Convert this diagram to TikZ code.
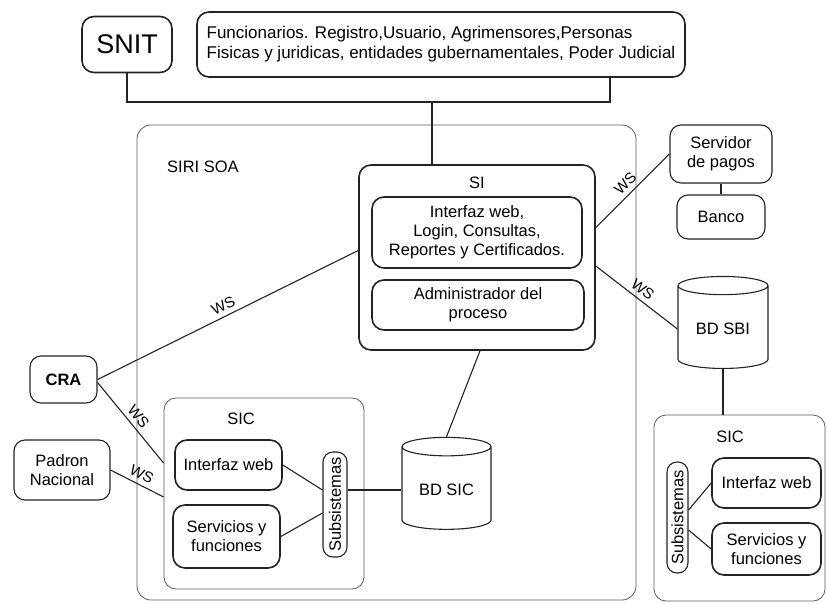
\documentclass[tikz,border=0pt]{standalone}
\usepackage{fontspec}
\setmainfont{Liberation Sans}
\usepackage{graphicx}
\usepackage{tikz}
\usetikzlibrary{shapes.geometric, positioning, calc}
\definecolor{inkgray}{RGB}{35, 35, 35}
\definecolor{framegray}{RGB}{90, 90, 90}
\tikzstyle{box} = [draw=inkgray, rounded corners=12pt, line width=1.6pt, align=center, inner sep=2pt, font=\fontsize{16.5}{19}\selectfont]
\tikzstyle{smallbox} = [draw=inkgray, rounded corners=11pt, line width=1.1pt, align=center, inner sep=2pt, font=\fontsize{16.5}{19}\selectfont]
\tikzstyle{frame} = [draw=framegray, rounded corners=14pt, line width=0.8pt]
\tikzstyle{db} = [cylinder, shape border rotate=90, shape aspect=0.3, draw=inkgray, line width=1.1pt, font=\fontsize{16.5}{19}\selectfont]
\tikzstyle{link} = [draw=inkgray, line width=1.1pt]
\tikzstyle{wslabel} = [sloped, above, inner sep=4.5pt, font=\fontsize{15}{15}\selectfont]
\tikzstyle{title} = [inner sep=0pt, font=\fontsize{16.5}{19}\selectfont]

\begin{document}
\begin{tikzpicture}[x=1pt, y=-1pt]
    \useasboundingbox (0,0) rectangle (827,603);
    \node (siri) [frame, minimum width=499pt, minimum height=475pt] at (386.5,362.5) {};
    \node (sirititle) [title, anchor=west] at (167,167) {SIRI SOA};
    \node (sic1) [frame, rounded corners=12pt, minimum width=200pt, minimum height=191pt] at (264,493.5) {};
    \node (sic1title) [title] at (241,419) {SIC};
    \node (sic2) [frame, rounded corners=12pt, minimum width=171pt, minimum height=186pt] at (739.5,508) {};
    \node (sic2title) [title] at (730,437) {SIC};

    \node (snit) [box, minimum width=90pt, minimum height=56pt, font=\fontsize{27}{30}\selectfont] at (127,44.5) {SNIT};
    \node (actors) [box, align=left, minimum width=488pt, minimum height=65pt, font=\fontsize{17}{20}\selectfont] at (441,44.5) {Funcionarios. Registro,Usuario, Agrimensores,Personas\\Fisicas y juridicas, entidades gubernamentales, Poder Judicial};

    \node (si) [box, minimum width=236pt, minimum height=185pt] at (477,257.5) {};
    \node (sititle) [title] at (477,183) {SI};
    \node (web) [box, minimum width=210pt, minimum height=71pt] at (477,232.5) {Interfaz web,\\Login, Consultas,\\Reportes y Certificados.};
    \node (admin) [box, minimum width=212pt, minimum height=50pt] at (478,305) {Administrador del\\proceso};

    \node (servidor) [smallbox, minimum width=102pt, minimum height=58pt] at (721,154) {Servidor\\de pagos};
    \node (banco) [smallbox, minimum width=88pt, minimum height=44pt] at (721,217) {Banco};
    \node (bdsbi) [db, minimum width=90pt, minimum height=92pt] at (723,329) {BD SBI};
    \node (bdsic) [db, minimum width=89pt, minimum height=92pt] at (446.5,490) {BD SIC};

    \node (cra) [smallbox, minimum width=67pt, minimum height=47pt, font=\bfseries\fontsize{16.5}{19}\selectfont] at (63.5,379.5) {CRA};
    \node (padron) [smallbox, minimum width=96pt, minimum height=60pt] at (62,470) {Padron\\Nacional};

    \node (web1) [box, minimum width=107pt, minimum height=50pt] at (228.5,465) {Interfaz web};
    \node (serv1) [box, minimum width=107pt, minimum height=63pt] at (226.5,536.5) {Servicios y\\funciones};
    \node (sub1) [smallbox, rounded corners=10pt, minimum width=24pt, minimum height=105pt, inner sep=0pt] at (335,504.5) {\rotatebox{90}{Subsistemas}};

    \node (web2) [box, minimum width=109pt, minimum height=50pt] at (766.5,483) {Interfaz web};
    \node (serv2) [box, minimum width=109pt, minimum height=52pt] at (766.5,549) {Servicios y\\funciones};
    \node (sub2) [smallbox, rounded corners=10pt, minimum width=21pt, minimum height=111pt, inner sep=0pt] at (677.5,517.5) {\rotatebox{90}{Subsistemas}};

    \coordinate (join) at (432,102);
    \draw [link] (snit.south) |- (join) -| ([xshift=169pt]actors.south);
    \draw [link] (join) -- (join |- si.north);

    \draw [link] (cra.east) -- node[wslabel] {WS} ([yshift=7pt]si.west);
    \draw [link] ([yshift=30pt]si.east) -- node[wslabel] {WS} (servidor.west);
    \draw [link] ([yshift=-8.5pt]si.east) -- node[wslabel] {WS} (bdsbi.west);
    \draw [link] (servidor.south) -- (banco.north);
    \draw [link] (bdsbi.south) -- (bdsbi.south |- sic2.north);
    \draw [link] ([xshift=3pt]si.south) -- (bdsic.north);

    \draw [link] ([yshift=-3pt]cra.east) -- node[wslabel] {WS} ([yshift=30.5pt]sic1.west);
    \draw [link] (padron.east) -- node[wslabel] {WS} ([yshift=-3.5pt]sic1.west);
    \draw [link] (web1.east) -- ([yshift=14.5pt]sub1.west);
    \draw [link] (serv1.east) -- ([yshift=-8.5pt]sub1.west);
    \draw [link] (bdsic.west) -- (bdsic.west -| sub1.east);
    \draw [link] ([yshift=7.5pt]sub2.east) -- (web2.west);
    \draw [link] ([yshift=-12.5pt]sub2.east) -- (serv2.west);
\end{tikzpicture}
\end{document}
